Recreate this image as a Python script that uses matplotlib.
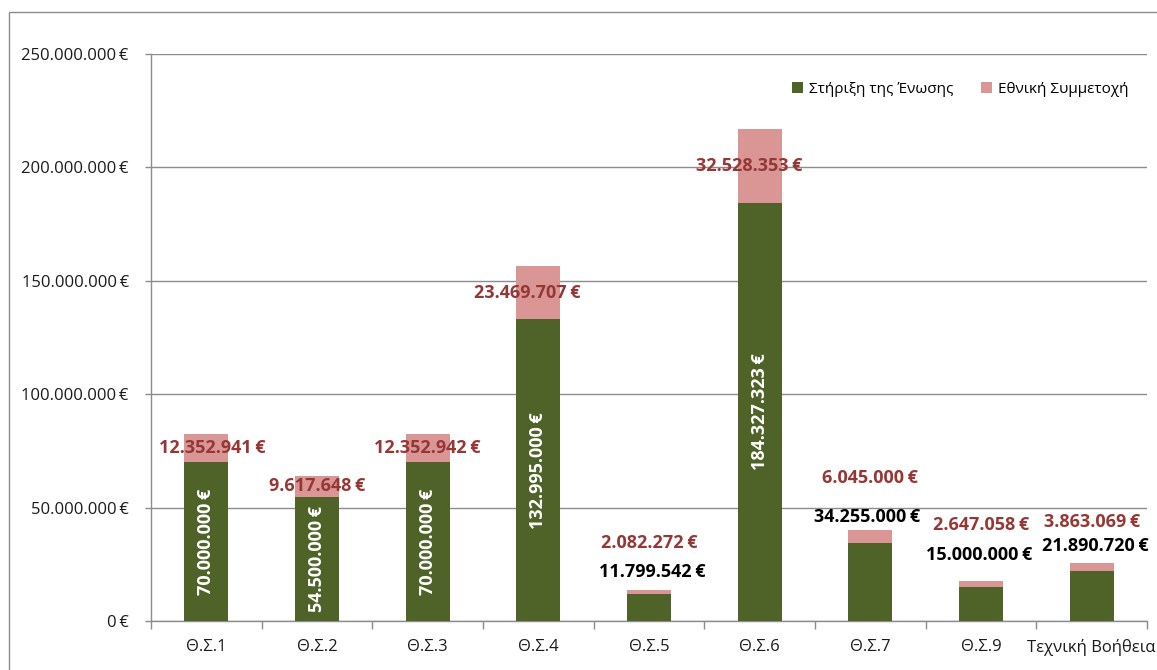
import matplotlib
matplotlib.use("Agg")
import matplotlib.pyplot as plt
from matplotlib.patches import Rectangle
from matplotlib.ticker import FuncFormatter, MultipleLocator
import numpy as np

plt.rcParams['font.family'] = ['Open Sans', 'DejaVu Sans']

categories = ["Θ.Σ.1", "Θ.Σ.2", "Θ.Σ.3", "Θ.Σ.4", "Θ.Σ.5", "Θ.Σ.6", "Θ.Σ.7", "Θ.Σ.9", "Τεχνική Βοήθεια"]
union_support = [70000000, 54500000, 70000000, 132995000, 11799542, 184327323, 34255000, 15000000, 21890720]
national_share = [12352941, 9617648, 12352942, 23469707, 2082272, 32528353, 6045000, 2647058, 3863069]
series_names = ["Στήριξη της Ένωσης", "Εθνική Συμμετοχή"]

GREEN = "#4F6228"
PINK = "#D99694"
DARKRED = "#953735"
GRID = "#8C8C8C"


def euro(v):
    return f"{int(round(v)):,}".replace(",", ".") + "\u2009€"


W, H = 1157, 670
fig = plt.figure(figsize=(W / 100, H / 100), dpi=100)
ax = fig.add_axes([151 / W, 1 - 621 / H, (1147 - 151) / W, (621 - 54) / H])

x = np.arange(len(categories))
bw = 0.40
ax.bar(x, union_support, bw, color=GREEN, label=series_names[0], zorder=3)
ax.bar(x, national_share, bw, bottom=union_support, color=PINK, label=series_names[1], zorder=3)

ax.set_xlim(-0.5, len(categories) - 0.5)
ax.set_ylim(0, 250e6)
ax.yaxis.set_major_locator(MultipleLocator(50e6))
ax.yaxis.set_major_formatter(FuncFormatter(lambda v, p: euro(v)))
ax.grid(axis='y', color=GRID, linewidth=1.0, zorder=0)
ax.set_axisbelow(True)

for s in ['top', 'right']:
    ax.spines[s].set_visible(False)
for s in ['left', 'bottom']:
    ax.spines[s].set_color(GRID)
    ax.spines[s].set_linewidth(1.0)

ax.set_xticks(x)
ax.set_xticklabels(categories)
ax.set_xticks(np.arange(-0.5, len(categories)), minor=True)
ax.tick_params(axis='x', which='major', length=0, pad=13, labelsize=12, labelcolor="#1a1a1a")
ax.tick_params(axis='x', which='minor', length=6, color=GRID, width=1)
ax.tick_params(axis='y', length=4, color=GRID, width=1, pad=12, labelsize=12, labelcolor="#1a1a1a")

# label layout: (dx, y in euros) for the national-share labels; None = centred in segment
red_pos = [(0.05, None), (0.0, None), (0.0, None), (-0.1, None), (0.0, 34.4e6),
           (-0.09, None), (0.0, 63.0e6), (0.0, 42.3e6), (0.0, 43.7e6)]
black_pos = {4: (0.03, 21.6e6), 6: (-0.03, 45.9e6), 7: (-0.02, 29.1e6), 8: (0.03, 33.1e6)}

for i in range(len(categories)):
    g = union_support[i]
    p = national_share[i]
    dx, ry = red_pos[i]
    if ry is None:
        ry = g + p / 2
    ax.text(i + dx, ry, euro(p), ha='center', va='center', color=DARKRED,
            fontsize=13, fontweight='bold', zorder=5)
    if i in black_pos:
        bdx, by = black_pos[i]
        ax.text(i + bdx, by, euro(g), ha='center', va='center', color='black',
                fontsize=13, fontweight='bold', zorder=5)
    else:
        ax.text(i, g / 2, euro(g), ha='center', va='center', color='white',
                fontsize=13, fontweight='bold', rotation=90, zorder=5)

leg = ax.legend(loc='upper right', bbox_to_anchor=(0.995, 0.975), ncol=2, frameon=False,
                fontsize=11, handlelength=0.7, handleheight=0.7, handletextpad=0.4,
                columnspacing=1.8)

# outer chart border
fig.patches.append(Rectangle((9 / W, -0.05), 1.2, 1 - 12 / H + 0.05, transform=fig.transFigure,
                             fill=False, edgecolor="#8C8C8C", linewidth=1.0))

fig.savefig("out.png", dpi=100)
